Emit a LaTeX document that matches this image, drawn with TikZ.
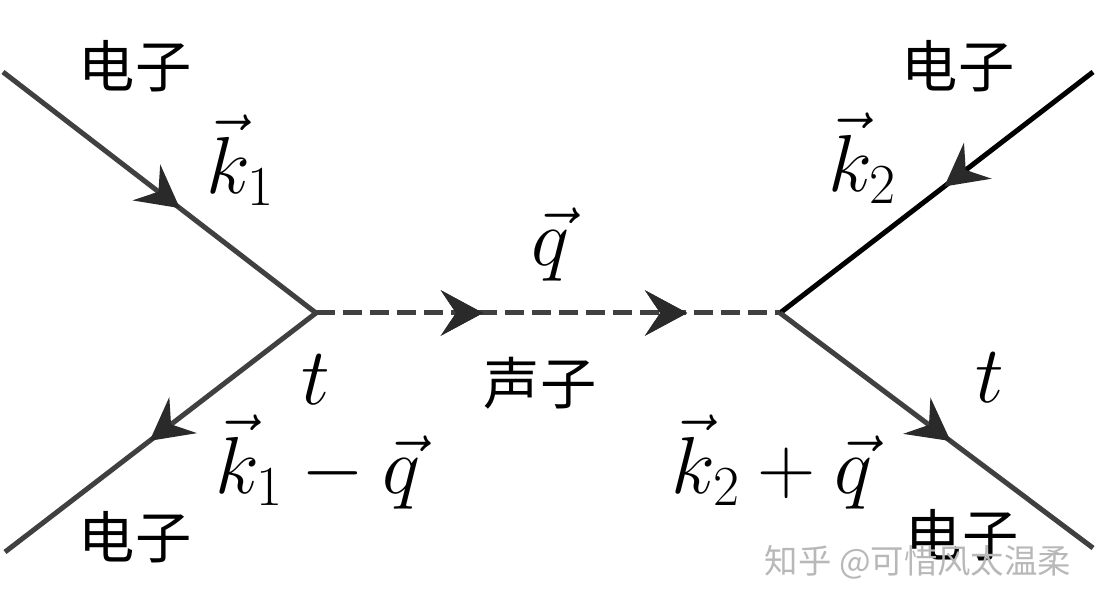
\documentclass[tikz,border=0pt]{standalone}
\usepackage{fix-cm}
\usepackage{fontspec}
\usetikzlibrary{arrows.meta,decorations.markings}
\newfontfamily\cjk{Noto Sans CJK SC}
\definecolor{lineGray}{HTML}{404040}
\definecolor{tipGray}{HTML}{2A2A2A}
\tikzset{
  feynTip/.tip={Stealth[length=0.84cm,width=0.9cm,inset=0.3cm]},
  arrowAt/.style={postaction={decorate},
    decoration={markings,mark=at position #1 with {\arrow[tipGray]{feynTip}}}},
  fermion/.style={draw=lineGray,line width=0.1cm},
  phonon/.style={draw=lineGray,line width=0.1cm,dash pattern=on 0.38cm off 0.16cm},
  cnlabel/.style={font=\cjk\fontsize{32}{36}\selectfont,inner sep=0pt},
  mathlabel/.style={font=\fontsize{46}{52}\selectfont,inner sep=0pt}
}
\begin{document}
\begin{tikzpicture}[x=0.02cm,y=-0.02cm]
% Page frame
\useasboundingbox (0,0) rectangle (1098,607);
% Vertices and outer ends
\coordinate (vL) at (316,313);
\coordinate (vR) at (780,313);
\coordinate (inL) at (3,72);
\coordinate (outL) at (5,552);
\coordinate (inR) at (1093,72);
\coordinate (outR) at (1093,548);
% Electron lines
\draw[fermion,arrowAt=0.565] (inL) -- (vL);
\draw[fermion,arrowAt=0.535] (vL) -- (outL);
\draw[fermion,draw=black,arrowAt=0.475] (inR) -- (vR);
\draw[fermion,arrowAt=0.545] (vR) -- (outR);
% Phonon line
\draw[phonon,arrowAt=0.36,arrowAt=0.80] (vL) -- (vR);
% Labels
\node[cnlabel] (eInL) at (135,66) {电子};
\node[cnlabel] (eInR) at (958,66) {电子};
\node[cnlabel] (eOutL) at (135,537) {电子};
\node[cnlabel] (eOutR) at (962,535) {电子};
\node[cnlabel] (phLabel) at (540,383) {声子};
\node[mathlabel] (kOne) at (240,160) {$\vec{k}_1$};
\node[mathlabel] (kTwo) at (862,158) {$\vec{k}_2$};
\node[mathlabel] (qVec) at (550,245) {$\vec{q}$};
\node[mathlabel] (tL) at (316,380) {$t$};
\node[mathlabel] (tR) at (990,378) {$t$};
\node[mathlabel] (kOneOut) at (318,462) {$\vec{k}_1-\vec{q}$};
\node[mathlabel] (kTwoOut) at (772,462) {$\vec{k}_2+\vec{q}$};
% Watermark
\node[font=\cjk\fontsize{19}{23}\selectfont,text=black!28,inner sep=0pt] (mark) at (918,562) {知乎 @可惜风太温柔};
\end{tikzpicture}
\end{document}
